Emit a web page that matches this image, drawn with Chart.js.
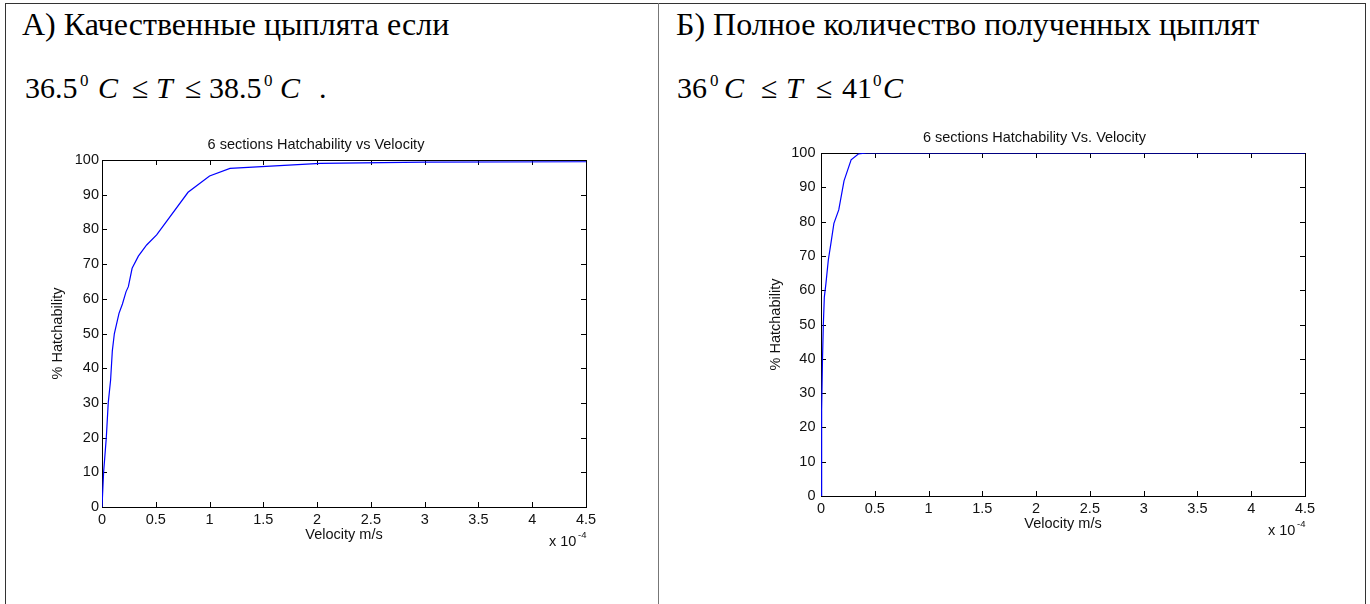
<!DOCTYPE html>
<html>
<head>
<meta charset="utf-8">
<title>Hatchability vs Velocity</title>
<script src="https://cdn.jsdelivr.net/npm/chart.js@4.4.1/dist/chart.umd.min.js"></script>
<style>
    html, body { margin: 0; padding: 0; background: #fff; }
    body { width: 1370px; height: 604px; position: relative; overflow: hidden; font-family: "Liberation Serif", "Times New Roman", serif; color: #000; }
    .frame { position: absolute; left: 5px; top: 3px; width: 1361px; height: 700px; border: 1px solid #333; box-sizing: border-box; }
    .divider { position: absolute; left: 658px; top: 3px; width: 1px; height: 700px; background: #777; }
    .h { position: absolute; font-size: 32px; line-height: 1; white-space: nowrap; top: 8px; }
    .t { position: absolute; font-size: 30px; line-height: 1; white-space: nowrap; top: 73px; }
    .t i { font-style: italic; }
    .sup { position: absolute; font-size: 17px; line-height: 1; top: 72px; }
    canvas { position: absolute; }
    #chartA { left: 6px; top: 110px; }
    #chartB { left: 661px; top: 100px; }
</style>
</head>
<body>
<div class="frame"></div>
<div class="divider"></div>

<!-- left cell -->
<div class="h" style="left:22px;">А) Качественные цыплята если</div>
<div class="t" style="left:25px;">36.5</div>
<div class="sup" style="left:80px;">0</div>
<div class="t" style="left:98px;"><i>C</i></div>
<div class="t" style="left:132px;">≤</div>
<div class="t" style="left:156px;"><i>T</i></div>
<div class="t" style="left:185px;">≤</div>
<div class="t" style="left:209px;">38.5</div>
<div class="sup" style="left:264px;">0</div>
<div class="t" style="left:280px;"><i>C</i></div>
<div class="t" style="left:319px;">.</div>

<!-- right cell -->
<div class="h" style="left:676px;">Б) Полное количество полученных цыплят</div>
<div class="t" style="left:677px;">36</div>
<div class="sup" style="left:710px;">0</div>
<div class="t" style="left:724px;"><i>C</i></div>
<div class="t" style="left:761px;">≤</div>
<div class="t" style="left:786px;"><i>T</i></div>
<div class="t" style="left:816px;">≤</div>
<div class="t" style="left:842px;">41</div>
<div class="sup" style="left:873px;">0</div>
<div class="t" style="left:883px;"><i>C</i></div>

<canvas id="chartA" width="652" height="494"></canvas>
<canvas id="chartB" width="704" height="504"></canvas>

<script>
    "use strict";

    // Velocity in units of 1e-4 m/s, hatchability in %
    var velA = [0, 0.015, 0.04, 0.058, 0.08, 0.096, 0.115, 0.158, 0.19, 0.223, 0.245, 0.28, 0.338, 0.415, 0.508, 0.8, 1.0, 1.19, 2.03, 3.0, 4.5];
    var hatchA = [0, 10, 20, 30, 36.6, 45, 50, 55.8, 58.5, 62, 63.5, 68.8, 72.3, 75.5, 78.4, 90.7, 95.4, 97.6, 99.0, 99.4, 99.5];

    var velB = [0, 0.004, 0.008, 0.014, 0.022, 0.031, 0.046, 0.068, 0.09, 0.12, 0.165, 0.214, 0.28, 0.347, 0.425, 1.0, 2.0, 3.0, 4.5];
    var hatchB = [0, 4, 25, 40, 50.3, 58, 62, 68.8, 73.2, 79.5, 83.4, 91.9, 98, 99.7, 100, 100, 100, 100, 100];

    var xRange = [0, 4.5];
    var xStep = 0.5;
    var yRange = [0, 100];
    var yStep = 10;

    var sans = '"Liberation Sans", Arial, sans-serif';
    var textColor = '#111';

    // MATLAB style box with inward ticks and the x 10^-4 exponent
    var matlabBox = {
        id: 'matlabBox',
        beforeDatasetsDraw: function (chart) {
            var ctx = chart.ctx, a = chart.chartArea;
            var xs = chart.scales.x, ys = chart.scales.y;
            var tick = 5;
            ctx.save();
            ctx.strokeStyle = '#000';
            ctx.lineWidth = 1;
            ctx.strokeRect(a.left + 0.5, a.top + 0.5, a.right - a.left, a.bottom - a.top);
            ctx.beginPath();
            xs.ticks.forEach(function (t) {
                var px = Math.round(xs.getPixelForValue(t.value)) + 0.5;
                ctx.moveTo(px, a.bottom); ctx.lineTo(px, a.bottom - tick);
                ctx.moveTo(px, a.top); ctx.lineTo(px, a.top + tick);
            });
            ys.ticks.forEach(function (t) {
                var py = Math.round(ys.getPixelForValue(t.value)) + 0.5;
                ctx.moveTo(a.left, py); ctx.lineTo(a.left + tick, py);
                ctx.moveTo(a.right, py); ctx.lineTo(a.right - tick, py);
            });
            ctx.stroke();
            ctx.restore();
        },
        afterDraw: function (chart) {
            var ctx = chart.ctx, a = chart.chartArea;
            ctx.save();
            ctx.fillStyle = textColor;
            ctx.textBaseline = 'alphabetic';
            ctx.font = '14.5px ' + sans;
            ctx.fillText('x 10', a.right - 37, a.bottom + 39);
            ctx.font = '9.5px ' + sans;
            ctx.fillText('-4', a.right - 8, a.bottom + 30.5);
            ctx.restore();
        }
    };

    function makeChart(id, xs, ys, title, g) {
        var points = xs.map(function (v, i) { return {x: v, y: ys[i]}; });
        var font = {family: sans, size: 14.5, weight: 'normal'};
        return new Chart(document.getElementById(id), {
            type: 'line',
            data: {
                datasets: [{
                    data: points,
                    borderColor: '#0000ff',
                    borderWidth: 1.2,
                    pointRadius: 0,
                    tension: 0,
                    fill: false
                }]
            },
            options: {
                responsive: false,
                animation: false,
                devicePixelRatio: 1,
                layout: {padding: {left: g.padLeft, right: g.padRight, top: 0, bottom: g.padBottom}},
                plugins: {
                    legend: {display: false},
                    tooltip: {enabled: false},
                    title: {
                        display: true,
                        text: title,
                        color: textColor,
                        font: font,
                        padding: {top: g.titleTop, bottom: g.titleBottom}
                    }
                },
                scales: {
                    x: {
                        type: 'linear',
                        min: xRange[0],
                        max: xRange[1],
                        afterFit: function (s) { s.height = 40; },
                        grid: {display: false, drawTicks: false},
                        border: {display: false},
                        ticks: {
                            stepSize: xStep,
                            padding: 4,
                            autoSkip: false,
                            maxRotation: 0,
                            color: textColor,
                            font: font,
                            callback: function (v) { return String(+v.toFixed(2)); }
                        },
                        title: {display: true, text: 'Velocity m/s', color: textColor, font: font, padding: {top: 0, bottom: 3.3}}
                    },
                    y: {
                        min: yRange[0],
                        max: yRange[1],
                        afterFit: function (s) { s.width = g.yWidth; },
                        grid: {display: false, drawTicks: false},
                        border: {display: false},
                        ticks: {stepSize: yStep, padding: g.yPad, color: textColor, font: font},
                        title: {display: true, text: '% Hatchability', color: textColor, font: font, padding: {top: 3.3, bottom: 0}}
                    }
                }
            },
            plugins: [matlabBox]
        });
    }

    // Chart A
    makeChart('chartA', velA, hatchA, '6 sections Hatchability vs Velocity',
        {padLeft: 40, yWidth: 56, padRight: 72, padBottom: 57, titleTop: 26.3, titleBottom: 6.3, yPad: 3});

    // Chart B
    makeChart('chartB', velB, hatchB, '6 sections Hatchability Vs. Velocity',
        {padLeft: 103, yWidth: 57, padRight: 60, padBottom: 68, titleTop: 29.3, titleBottom: 6.3, yPad: 5.5});
</script>
</body>
</html>
